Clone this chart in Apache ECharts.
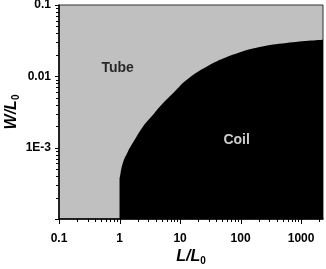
<!DOCTYPE html>
<html><head><meta charset="utf-8">
<script src="https://cdn.jsdelivr.net/npm/echarts@6/dist/echarts.min.js"></script>
<style>html,body{margin:0;padding:0;background:#fff}#c{width:326px;height:269px}</style>
</head><body><div id="c"></div>
<script>
const xTickValues = [0.1, 1, 10, 100, 1000];
const xTickLabels = ['0.1', '1', '10', '100', '1000'];
const yTickValues = [1e-4, 1e-3, 0.01, 0.1];
const yTickLabels = ['', '1E-3', '0.01', '0.1'];
const xMin = 0.1, xMax = 2300, yMin = 1e-4, yMax = 0.1;

// Tube / Coil boundary (L/L0, W/L0)
const boundaryL = [1, 1, 1.027, 1.134, 1.372, 1.77, 2.43, 3.55, 5.2, 8.1, 12.8, 27.4, 73.8, 206, 575, 2300];
const boundaryW = [1e-4, 3.52e-4, 4.14e-4, 6.1e-4, 8.8e-4, 1.28e-3, 1.97e-3, 2.88e-3, 4.2e-3, 6.1e-3, 8.9e-3, 1.36e-2, 2.0e-2, 2.58e-2, 2.94e-2, 3.25e-2];

const regionNames = ['Tube', 'Coil'];
const regionL = [0.93, 86];
const regionW = [0.0131, 1.28e-3];
const regionColors = ['#000', '#fff'];

// minor tick positions (2..9 x 10^k)
const xMinor = [], yMinor = [];
for (let d = 0.1; d < xMax; d *= 10) for (let k = 2; k <= 9; k++) { const v = +(d * k).toPrecision(3); if (v < xMax) xMinor.push(v); }
for (let d = 1e-4; d < yMax * 0.99; d *= 10) for (let k = 2; k <= 9; k++) yMinor.push(+(d * k).toPrecision(3));

const font = 'Liberation Sans, Arial, sans-serif';
const chart = echarts.init(document.getElementById('c'), null, {renderer: 'canvas'});

function fmt(vals, labels) {
  return function (v) {
    for (let i = 0; i < vals.length; i++) if (Math.abs(Math.log10(v) - Math.log10(vals[i])) < 1e-6) return labels[i];
    return '';
  };
}
const nameRich = {
  i: {fontSize: 16, fontWeight: 'bold', fontStyle: 'italic', fontFamily: font, color: '#000'},
  s: {fontSize: 10, fontWeight: 'bold', fontFamily: font, color: '#000', padding: [8, 0, 0, 0]}
};

chart.setOption({
  animation: false,
  grid: {left: 59, top: 5, right: 3, bottom: 50, containLabel: false, outerBoundsMode: 'none',
    show: true, backgroundColor: '#c0c0c0', borderColor: '#333', borderWidth: 1},
  xAxis: {
    type: 'log', logBase: 10, min: xMin, max: xMax, position: 'bottom',
    name: '{i|L/L}{s|0}', nameLocation: 'middle', nameGap: 29, nameMoveOverlap: false, nameTextStyle: {rich: nameRich},
    axisLine: {show: true, onZero: false, lineStyle: {color: '#000', width: 1.5}},
    axisTick: {show: false},
    axisLabel: {margin: 14, fontSize: 12, fontWeight: 'bold', fontFamily: font, color: '#000', customValues: xTickValues, formatter: fmt(xTickValues, xTickLabels)},
    splitLine: {show: false}, minorTick: {show: false}
  },
  yAxis: {
    type: 'log', logBase: 10, min: yMin, max: yMax, position: 'left',
    name: '{i|W/L}{s|0}', nameLocation: 'middle', nameGap: 38, nameMoveOverlap: false, nameTextStyle: {rich: nameRich},
    axisLine: {show: true, onZero: false, lineStyle: {color: '#000', width: 1.5}},
    axisTick: {show: false},
    axisLabel: {margin: 8, fontSize: 12, fontWeight: 'bold', fontFamily: font, color: '#000', customValues: yTickValues, formatter: fmt(yTickValues, yTickLabels)},
    splitLine: {show: false}, minorTick: {show: false}
  },
  series: [
    {
      type: 'line', data: boundaryL.map((l, i) => [l, boundaryW[i]]),
      showSymbol: false, smooth: 0.45, lineStyle: {width: 0},
      areaStyle: {color: '#000', opacity: 1, origin: 'start'}, z: 2
    },
    {
      type: 'scatter', symbolSize: 0,
      data: regionL.map((l, i) => ({value: [l, regionW[i]], name: regionNames[i], label: {color: regionColors[i]}})),
      label: {show: true, position: 'inside', formatter: p => p.name, fontSize: 14, fontWeight: 'bold', fontFamily: font},
      z: 5
    }
  ]
});

// tick marks placed through the chart's own axis scales
const ticks = [];
const toPx = (x, y) => chart.convertToPixel({xAxisIndex: 0, yAxisIndex: 0}, [x, y]);
function xTick(v, len) { const p = toPx(v, yMin); const x = Math.round(p[0]) + 0.5;
  ticks.push({type: 'line', silent: true, z: 50, shape: {x1: x, y1: p[1], x2: x, y2: p[1] + len}, style: {stroke: '#000', lineWidth: 1}}); }
function yTick(v, len) { const p = toPx(xMin, v); const y = Math.round(p[1]) + 0.5;
  ticks.push({type: 'line', silent: true, z: 50, shape: {x1: p[0] - len, y1: y, x2: p[0], y2: y}, style: {stroke: '#000', lineWidth: 1}}); }
xTickValues.forEach(v => xTick(v, 5));
xMinor.forEach(v => xTick(v, 3));
yTickValues.forEach(v => yTick(v, 4));
yMinor.forEach(v => yTick(v, 3));
chart.setOption({graphic: {elements: ticks}});
</script></body></html>
